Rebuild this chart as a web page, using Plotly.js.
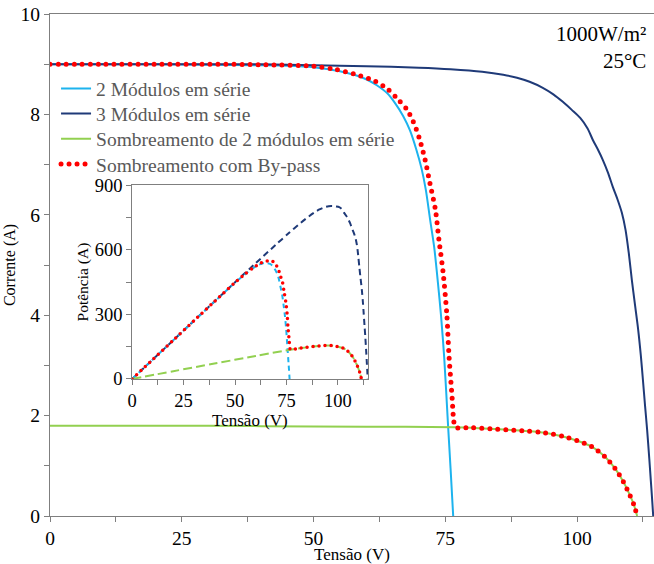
<!DOCTYPE html>
<html>
<head>
<meta charset="utf-8">
<script src="https://cdn.plot.ly/plotly-3.0.1.min.js"></script>
<style>
  html, body { margin: 0; padding: 0; background: #fff; }
  #chart { width: 654px; height: 564px; }
</style>
</head>
<body>
<div id="chart"></div>
<script>
// I-V curves of the PV string: voltage (V) and current (A)
const vTwo = [0, 10, 20, 30, 40, 45, 50, 55, 58, 60, 62, 64, 65.5, 67, 68.3, 69.5, 70.5, 71.3, 72.1, 72.9, 73.6, 74.2, 74.8, 75.5, 76.0, 76.5];
const iTwo = [9.00, 9.00, 9.00, 8.99, 8.98, 8.97, 8.94, 8.86, 8.78, 8.70, 8.58, 8.42, 8.22, 7.97, 7.68, 7.30, 6.92, 6.50, 5.92, 5.35, 4.65, 3.98, 3.15, 1.85, 0.95, 0.00];

const vThree = [0, 10, 20, 30, 40, 50, 60, 70, 76, 82, 86, 88.6, 91, 93.5, 95.5, 97.3, 99, 100.6, 102, 103, 104, 104.9, 105.9, 106.8, 107.7, 108.5, 109.2, 109.8, 110.4, 111, 111.6, 112.1, 112.5, 112.9, 113.3, 113.7, 114.0, 114.2, 114.45];
const iThree = [9.00, 9.00, 9.00, 9.00, 9.00, 8.98, 8.96, 8.93, 8.90, 8.85, 8.79, 8.73, 8.65, 8.53, 8.40, 8.25, 8.09, 7.93, 7.72, 7.49, 7.29, 7.09, 6.83, 6.55, 6.30, 6.04, 5.70, 5.25, 4.70, 4.20, 3.71, 3.20, 2.71, 2.20, 1.71, 1.15, 0.70, 0.40, 0.00];

const vShade = [0, 20, 40, 60, 76.9, 80, 84.8, 88, 90.7, 93, 95.4, 97.5, 100, 102.8, 105.3, 107.2, 108.8, 110, 110.8, 111.4];
const iShade = [1.80, 1.80, 1.79, 1.78, 1.77, 1.76, 1.73, 1.71, 1.69, 1.67, 1.63, 1.58, 1.50, 1.38, 1.18, 0.95, 0.68, 0.42, 0.22, 0.00];

const vBypass = [0, 10, 20, 30, 40, 50, 54, 58.8, 61.7, 64.1, 66.2, 67.7, 68.9, 70, 71.2, 72.1, 73.1, 73.8, 74.6, 75.3, 75.7, 76.3, 76.6, 76.9, 80, 84.8, 88, 90.7, 93, 95.4, 97.5, 100, 102.8, 105.3, 107.2, 108.8, 110, 110.8, 111.4];
const iBypass = [9.00, 9.00, 9.00, 9.00, 8.99, 8.96, 8.90, 8.77, 8.66, 8.50, 8.28, 8.10, 7.86, 7.55, 7.08, 6.62, 6.12, 5.50, 4.84, 4.00, 3.20, 2.35, 1.90, 1.77, 1.76, 1.73, 1.71, 1.69, 1.67, 1.63, 1.58, 1.50, 1.38, 1.18, 0.95, 0.68, 0.42, 0.22, 0.00];

const seriesNames = ['2 Módulos em série', '3 Módulos em série', 'Sombreamento de 2 módulos em série', 'Sombreamento com By-pass'];
const mainTicksX = [0, 25, 50, 75, 100];
const mainTicksY = [0, 2, 4, 6, 8, 10];
const insetTicksY = [0, 300, 600, 900];
const conditionText = '1000W/m²<br>25°C';

// power curve of each series: P = V * I
function power(v, i) { return v.map((x, k) => x * i[k]); }

const C_TWO = '#1DB3EE', C_THREE = '#1F3A78', C_SHADE = '#92D050', C_BYPASS = '#FF0000';
const AXIS = '#7F7F7F';
const FONT = '"Liberation Serif", "Times New Roman", serif';
const SMOOTH = { shape: 'spline', smoothing: 0.8 };

function ln(o) { return Object.assign({}, SMOOTH, o); }

const traces = [
  { x: vTwo, y: iTwo, name: seriesNames[0], mode: 'lines', line: ln({ color: C_TWO, width: 2 }) },
  { x: vThree, y: iThree, name: seriesNames[1], mode: 'lines', line: ln({ color: C_THREE, width: 2 }) },
  { x: vShade, y: iShade, name: seriesNames[2], mode: 'lines', line: ln({ color: C_SHADE, width: 2 }) },
  { x: vBypass, y: iBypass, name: seriesNames[3], mode: 'lines', line: ln({ color: C_BYPASS, width: 5, dash: '0px,8px' }) },
  // inset: power curves
  { x: vThree, y: power(vThree, iThree), xaxis: 'x2', yaxis: 'y2', mode: 'lines', showlegend: false,
    line: ln({ color: C_THREE, width: 2, dash: '6px,4px' }) },
  { x: vTwo, y: power(vTwo, iTwo), xaxis: 'x2', yaxis: 'y2', mode: 'lines', showlegend: false,
    line: ln({ color: C_TWO, width: 2, dash: '5px,4px' }) },
  { x: vShade, y: power(vShade, iShade), xaxis: 'x2', yaxis: 'y2', mode: 'lines', showlegend: false,
    line: ln({ color: C_SHADE, width: 2, dash: '9px,4px' }) },
  { x: vBypass, y: power(vBypass, iBypass), xaxis: 'x2', yaxis: 'y2', mode: 'lines', showlegend: false,
    line: ln({ color: C_BYPASS, width: 3.5, dash: '0px,6px' }) }
];

function axisBase(size) {
  return {
    showgrid: false, zeroline: false, showline: true, linecolor: AXIS, linewidth: 1,
    ticks: 'outside', ticklen: 5, tickcolor: AXIS, tickwidth: 1,
    tickfont: { family: FONT, size: size, color: '#000' }
  };
}

const layout = {
  width: 654, height: 564,
  margin: { l: 50, r: 0, t: 14, b: 48 },
  paper_bgcolor: '#fff', plot_bgcolor: 'rgba(0,0,0,0)',
  font: { family: FONT, size: 17, color: '#000' },
  xaxis: Object.assign(axisBase(19.5), {
    range: [0, 114.6], tickvals: mainTicksX, mirror: true, domain: [0, 1],
    minor: { dtick: 12.5, tick0: 0, ticks: 'outside', ticklen: 5, tickcolor: AXIS },
    title: { text: 'Tensão (V)', font: { family: FONT, size: 17 }, standoff: 0 }
  }),
  yaxis: Object.assign(axisBase(19.5), {
    range: [0, 10], tickvals: mainTicksY,
    minor: { dtick: 1, tick0: 0, ticks: 'outside', ticklen: 5, tickcolor: AXIS },
    title: { text: 'Corrente (A)', font: { family: FONT, size: 16 }, standoff: 0 }
  }),
  xaxis2: Object.assign(axisBase(18.5), {
    domain: [0.136, 0.5265], anchor: 'y2', range: [0, 114.6], tickvals: mainTicksX, mirror: true,
    minor: { dtick: 12.5, tick0: 0, ticks: 'outside', ticklen: 5, tickcolor: AXIS }
  }),
  yaxis2: Object.assign(axisBase(18.5), {
    domain: [0.273, 0.659], anchor: 'x2', range: [0, 900], tickvals: insetTicksY, mirror: true,
    minor: { dtick: 150, tick0: 0, ticks: 'outside', ticklen: 5, tickcolor: AXIS },
    title: { text: 'Potência (A)', font: { family: FONT, size: 15.5 }, standoff: 2 }
  }),
  legend: {
    x: 0.01, y: 0.89, xanchor: 'left', yanchor: 'top',
    bgcolor: 'rgba(0,0,0,0)', borderwidth: 0,
    font: { family: FONT, size: 19.5, color: '#595959' }
  },
  annotations: [
    {
      xref: 'paper', yref: 'paper', x: 0.99, y: 0.988, xanchor: 'right', yanchor: 'top',
      text: conditionText, align: 'right', showarrow: false,
      font: { family: FONT, size: 21, color: '#000' }
    },
    {
      // inset x-axis title
      xref: 'paper', yref: 'paper', x: 0.331, y: 0.19, xanchor: 'center', yanchor: 'middle',
      text: 'Tensão (V)', showarrow: false,
      font: { family: FONT, size: 17, color: '#000' }
    }
  ]
};

Plotly.newPlot('chart', traces, layout, { staticPlot: true, displayModeBar: false }).then(function () {
  // round caps turn the zero-length dashes into round dots
  document.querySelectorAll('path.js-line, g.legendlines path').forEach(function (p) {
    if (p.style.stroke === 'rgb(255, 0, 0)') p.style.strokeLinecap = 'round';
  });
  // tighter legend rows
  const items = document.querySelectorAll('g.legend g.traces');
  let y0 = null;
  items.forEach(function (g, k) {
    const m = /translate\(([-\d.]+),\s*([-\d.]+)\)/.exec(g.getAttribute('transform') || '');
    if (!m) return;
    if (y0 === null) y0 = parseFloat(m[2]);
    g.setAttribute('transform', 'translate(' + m[1] + ',' + (y0 + k * 25.2) + ')');
  });
});
</script>
</body>
</html>
